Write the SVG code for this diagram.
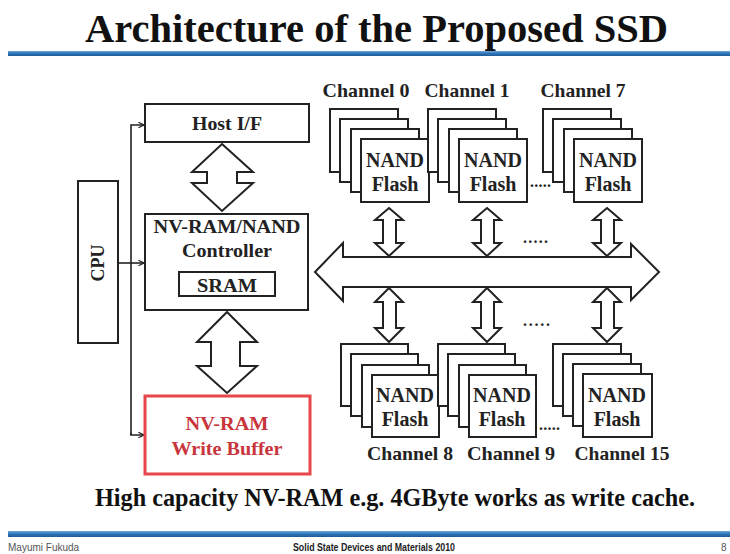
<svg xmlns="http://www.w3.org/2000/svg" width="730" height="554" viewBox="0 0 730 554">
  <defs>
    <linearGradient id="bar" x1="0" y1="0" x2="0" y2="1">
      <stop offset="0" stop-color="#6fa6da"/>
      <stop offset="0.5" stop-color="#2f74b8"/>
      <stop offset="1" stop-color="#1d5a98"/>
    </linearGradient>
    <marker id="ah" viewBox="0 0 10 10" refX="9" refY="5" markerWidth="7" markerHeight="7" markerUnits="userSpaceOnUse" orient="auto">
      <path d="M1,1 L9,5 L1,9" fill="none" stroke="#222" stroke-width="1.6"/>
    </marker>
  </defs>
  <style>
    .box { fill: #fff; stroke: #222; stroke-width: 2; }
    .card { fill: #fff; stroke: #222; stroke-width: 2; }
    .red { fill: #fff; stroke: #e8464b; stroke-width: 3; }
    .arrow { fill: #fff; stroke: #222; stroke-width: 2; stroke-linejoin: miter; }
    .wire { fill: none; stroke: #222; stroke-width: 1.6; }
    .t { font-family: "Liberation Serif", "Times New Roman", serif; font-weight: bold; fill: #222; }
    .dark { fill: #111; }
    .redtxt { fill: #c8363c; }
    .lbl { font-size: 19px; text-anchor: middle; }
    .nand { font-size: 20px; text-anchor: middle; }
    .dots { font-size: 16px; }
    .foot { font-family: "Liberation Sans", Arial, sans-serif; font-size: 10px; fill: #555; }
    .foot-b { font-weight: bold; fill: #222; }
  </style>

  <rect width="730" height="554" fill="#fff"/>

  <!-- heading -->
  <text class="t dark" x="85" y="42" font-size="41" textLength="583" lengthAdjust="spacingAndGlyphs">Architecture of the Proposed SSD</text>
  <rect x="8" y="51" width="722" height="5" fill="url(#bar)"/>

  <!-- connectors: CPU control lines and data arrows -->
  <g id="connectors">
    <path class="wire" d="M131,435 V125 H144" marker-end="url(#ah)"/>
    <path class="wire" d="M118,263 H144" marker-end="url(#ah)"/>
    <path class="wire" d="M131,433 V435 H144" marker-end="url(#ah)"/>
    <!-- Host I/F <-> controller -->
    <path class="arrow" d="M222,144 L253,172 L237,172 L237,183 L253,183 L222,211 L192,183 L207,183 L207,172 L192,172 Z"/>
    <!-- controller <-> write buffer -->
    <path class="arrow" d="M227,312 L257,342 L240,342 L240,366 L257,366 L227,393 L197,366 L211,366 L211,342 L197,342 Z"/>
    <!-- internal bus -->
    <path class="arrow" d="M315,272 L343,243 L343,257 L631,257 L631,244 L659,272 L631,300 L631,287 L343,287 L343,301 Z"/>
    <!-- channel links, upper row -->
    <path class="arrow" d="M389,208 L403,220 L396,220 L396,243 L403,243 L389,256 L375,243 L383,243 L383,220 L375,220 Z"/>
    <path class="arrow" d="M487,208 L501,220 L494,220 L494,243 L501,243 L487,256 L473,243 L481,243 L481,220 L473,220 Z"/>
    <path class="arrow" d="M607,208 L621,220 L614,220 L614,243 L621,243 L607,256 L593,243 L601,243 L601,220 L593,220 Z"/>
    <!-- channel links, lower row -->
    <path class="arrow" d="M389,288 L403,302 L396,302 L396,328 L403,328 L389,342 L375,328 L383,328 L383,302 L375,302 Z"/>
    <path class="arrow" d="M487,288 L501,302 L494,302 L494,328 L501,328 L487,342 L473,328 L481,328 L481,302 L473,302 Z"/>
    <path class="arrow" d="M607,288 L621,302 L614,302 L614,328 L621,328 L607,342 L593,328 L601,328 L601,302 L593,302 Z"/>
  </g>

  <g id="cpu">
    <rect class="box" x="78" y="181" width="40" height="162"/>
    <text class="t" font-size="18" text-anchor="middle" transform="translate(104,263) rotate(-90)">CPU</text>
  </g>

  <g id="host-if">
    <rect class="box" x="145" y="104" width="164" height="38"/>
    <text class="t lbl" x="227" y="130" font-size="18" textLength="70" lengthAdjust="spacingAndGlyphs">Host I/F</text>
  </g>

  <g id="controller">
    <rect class="box" x="145" y="214" width="163" height="96"/>
    <text class="t lbl" x="227" y="233" font-size="18" textLength="147" lengthAdjust="spacingAndGlyphs">NV-RAM/NAND</text>
    <text class="t lbl" x="227" y="257" font-size="18" textLength="90" lengthAdjust="spacingAndGlyphs">Controller</text>
    <rect class="box" x="179" y="272" width="96" height="24"/>
    <text class="t lbl" x="227" y="292" font-size="18" textLength="60" lengthAdjust="spacingAndGlyphs">SRAM</text>
  </g>

  <g id="write-buffer">
    <rect class="red" x="145" y="396" width="165" height="78"/>
    <text class="t lbl redtxt" x="227" y="430" font-size="18" textLength="83" lengthAdjust="spacingAndGlyphs">NV-RAM</text>
    <text class="t lbl redtxt" x="227" y="455" font-size="18" textLength="111" lengthAdjust="spacingAndGlyphs">Write Buffer</text>
  </g>

  <!-- upper channels -->
  <g id="channel-0">
    <text class="t lbl" x="366" y="97" textLength="87" lengthAdjust="spacingAndGlyphs">Channel 0</text>
    <rect class="card" x="330" y="109" width="68" height="63"/>
    <rect class="card" x="340" y="119" width="68" height="63"/>
    <rect class="card" x="351" y="129" width="68" height="63"/>
    <rect class="card" x="361" y="139" width="68" height="63"/>
    <text class="t nand" x="395" y="167">NAND</text>
    <text class="t nand" x="395" y="191">Flash</text>
  </g>
  <g id="channel-1">
    <text class="t lbl" x="467" y="97" textLength="85" lengthAdjust="spacingAndGlyphs">Channel 1</text>
    <rect class="card" x="428" y="109" width="68" height="63"/>
    <rect class="card" x="438" y="119" width="68" height="63"/>
    <rect class="card" x="449" y="129" width="68" height="63"/>
    <rect class="card" x="459" y="139" width="68" height="63"/>
    <text class="t nand" x="493" y="167">NAND</text>
    <text class="t nand" x="493" y="191">Flash</text>
  </g>
  <g id="channel-7">
    <text class="t lbl" x="583" y="97" textLength="85" lengthAdjust="spacingAndGlyphs">Channel 7</text>
    <rect class="card" x="543" y="109" width="68" height="63"/>
    <rect class="card" x="553" y="119" width="68" height="63"/>
    <rect class="card" x="564" y="129" width="68" height="63"/>
    <rect class="card" x="574" y="139" width="68" height="63"/>
    <text class="t nand" x="608" y="167">NAND</text>
    <text class="t nand" x="608" y="191">Flash</text>
  </g>

  <!-- lower channels -->
  <g id="channel-8">
    <rect class="card" x="341" y="344" width="67" height="62"/>
    <rect class="card" x="351" y="354" width="67" height="62"/>
    <rect class="card" x="362" y="365" width="67" height="62"/>
    <rect class="card" x="372" y="375" width="67" height="62"/>
    <text class="t nand" x="405" y="402">NAND</text>
    <text class="t nand" x="405" y="426">Flash</text>
    <text class="t lbl" x="410" y="460" textLength="86" lengthAdjust="spacingAndGlyphs">Channel 8</text>
  </g>
  <g id="channel-9">
    <rect class="card" x="438" y="344" width="67" height="62"/>
    <rect class="card" x="448" y="354" width="67" height="62"/>
    <rect class="card" x="459" y="365" width="67" height="62"/>
    <rect class="card" x="469" y="375" width="67" height="62"/>
    <text class="t nand" x="502" y="402">NAND</text>
    <text class="t nand" x="502" y="426">Flash</text>
    <text class="t lbl" x="511" y="460" textLength="88" lengthAdjust="spacingAndGlyphs">Channel 9</text>
  </g>
  <g id="channel-15">
    <rect class="card" x="553" y="344" width="68" height="62"/>
    <rect class="card" x="563" y="354" width="68" height="62"/>
    <rect class="card" x="573" y="364" width="68" height="62"/>
    <rect class="card" x="583" y="374" width="69" height="63"/>
    <text class="t nand" x="617" y="402">NAND</text>
    <text class="t nand" x="617" y="426">Flash</text>
    <text class="t lbl" x="622" y="460" textLength="95" lengthAdjust="spacingAndGlyphs">Channel 15</text>
  </g>

  <!-- ellipses for the omitted channels -->
  <g id="ellipses">
    <text class="t dots" x="530" y="187" textLength="21" lengthAdjust="spacing">.....</text>
    <text class="t dots" x="523" y="243" textLength="25" lengthAdjust="spacing">.....</text>
    <text class="t dots" x="523" y="326" textLength="27" lengthAdjust="spacing">.....</text>
    <text class="t dots" x="539" y="430" textLength="21" lengthAdjust="spacing">.....</text>
  </g>

  <text class="t dark" x="95" y="506" font-size="25" textLength="600" lengthAdjust="spacingAndGlyphs">High capacity NV-RAM e.g. 4GByte works as write cache.</text>

  <!-- footer -->
  <rect x="8" y="531" width="722" height="6" fill="url(#bar)"/>
  <text class="foot" x="8" y="551">Mayumi Fukuda</text>
  <text class="foot foot-b" x="374" y="551" text-anchor="middle" textLength="162" lengthAdjust="spacingAndGlyphs">Solid State Devices and Materials 2010</text>
  <text class="foot" x="721" y="551">8</text>
</svg>
